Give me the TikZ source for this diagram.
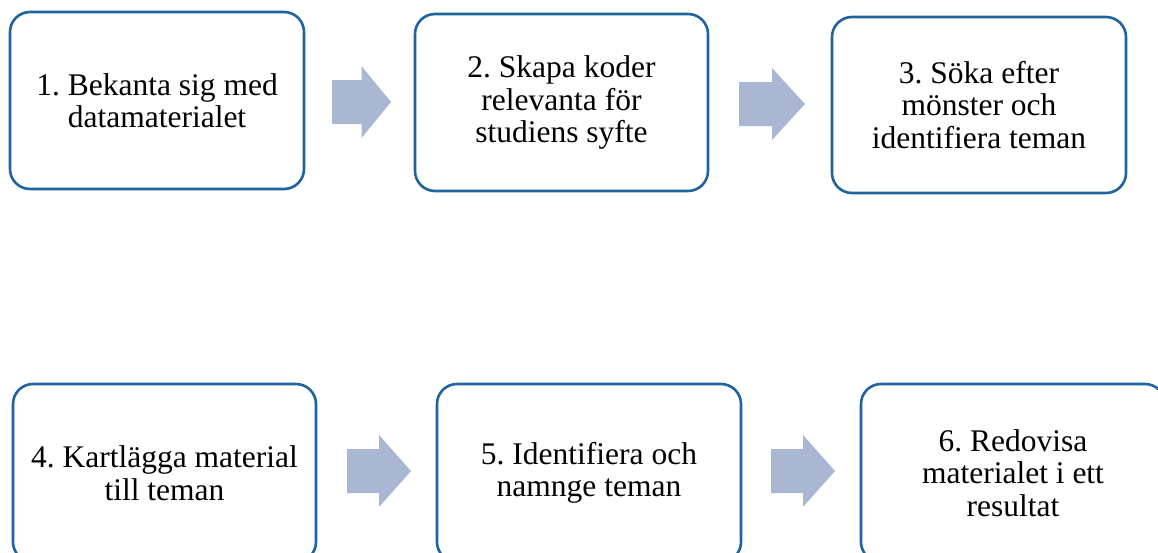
\documentclass[tikz,border=0pt]{standalone}
\usepackage{fontspec}
\setmainfont{Liberation Serif}
\definecolor{boxblue}{HTML}{1F64A0}
\definecolor{arrowfill}{HTML}{A9B7D3}
\newcommand{\blockarrow}[4]{% name, x0, xtip, yc
  \coordinate (#1) at (#2,#4);
  \fill[arrowfill] (#2,#4-22) -- ({(#2+#3)/2},#4-22) -- ({(#2+#3)/2},#4-36) -- (#3,#4)
    -- ({(#2+#3)/2},#4+36) -- ({(#2+#3)/2},#4+22) -- (#2,#4+22) -- cycle;}
\begin{document}
\frenchspacing
\begin{tikzpicture}[x=1pt,y=-1pt,
  stepbox/.style={draw=boxblue, line width=2.6pt, rounded corners=20pt, fill=white,
    inner sep=0pt, align=center, font=\fontsize{31.5}{32.5}\selectfont}]
\useasboundingbox (0,0) rectangle (1158,552);
\clip (0,0) rectangle (1158,552);
\node[stepbox, minimum width=294pt, minimum height=177pt] (b1) at (157,100.5) {1. Bekanta sig med\\datamaterialet};
\node[stepbox, minimum width=293pt, minimum height=177pt] (b2) at (561.5,102.5) {2. Skapa koder\\relevanta för\\studiens syfte};
\node[stepbox, minimum width=294pt, minimum height=176pt] (b3) at (979,105) {3. Söka efter\\mönster och\\identifiera teman};
\node[stepbox, minimum width=303pt, minimum height=178pt] (b4) at (164.5,473) {4. Kartlägga material\\till teman};
\node[stepbox, minimum width=304pt, minimum height=178pt] (b5) at (589,473) {5. Identifiera och\\namnge teman};
\node[stepbox, minimum width=304pt, minimum height=178pt] (b6) at (1013,473) {6. Redovisa\\materialet i ett\\resultat};
\blockarrow{a1}{332}{391}{102}
\blockarrow{a2}{739}{805}{104}
\blockarrow{a3}{347}{411}{471}
\blockarrow{a4}{771}{835}{471}
\end{tikzpicture}
\end{document}
